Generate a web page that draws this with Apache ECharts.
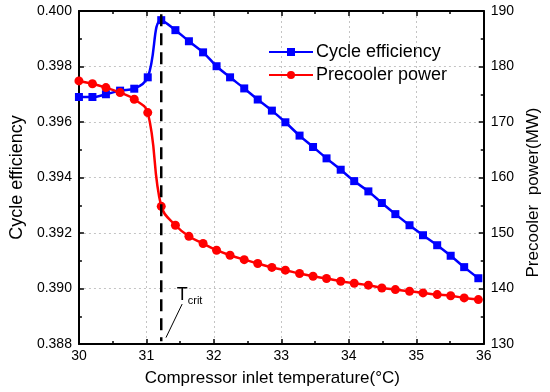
<!DOCTYPE html>
<html><head><meta charset="utf-8">
<script src="https://cdn.jsdelivr.net/npm/echarts@6/dist/echarts.min.js"></script>
<style>html,body{margin:0;padding:0;background:#fff}#c{width:550px;height:392px}</style>
</head><body><div id="c"></div>
<script>
// Data
const temps = [30.00, 30.20, 30.40, 30.61, 30.82, 31.02, 31.22, 31.43, 31.63, 31.84,
               32.04, 32.24, 32.45, 32.65, 32.86, 33.06, 33.27, 33.47, 33.67, 33.88,
               34.08, 34.29, 34.49, 34.69, 34.90, 35.10, 35.31, 35.51, 35.71, 35.92];
const efficiency = [0.39690, 0.39690, 0.39700, 0.39713, 0.39720, 0.39761, 0.39967, 0.39931, 0.39891, 0.39851,
                    0.39801, 0.39761, 0.39721, 0.39681, 0.39641, 0.39599, 0.39551, 0.39510, 0.39469, 0.39428,
                    0.39387, 0.39350, 0.39308, 0.39268, 0.39228, 0.39192, 0.39156, 0.39118, 0.39077, 0.39037];
const precoolerPower = [177.4, 176.9, 176.2, 175.3, 174.1, 171.7, 154.8, 151.4, 149.4, 148.1,
                        146.9, 146.0, 145.2, 144.5, 143.8, 143.3, 142.7, 142.2, 141.8, 141.3,
                        140.95, 140.6, 140.1, 139.8, 139.5, 139.2, 138.9, 138.7, 138.3, 138.0];
const xTicks = [30, 31, 32, 33, 34, 35, 36];
const effTicks = [0.388, 0.390, 0.392, 0.394, 0.396, 0.398, 0.400];
const powerTicks = [130, 140, 150, 160, 170, 180, 190];
const tCrit = 31.22;
const tCritLine = [[tCrit, 0.39988], [tCrit, 0.3881]];
const arrowFrom = [31.53, 0.38944];
const arrowTo = [31.29, 0.38823];
const tCritLabelAt = [31.45, 0.39010];
const seriesNames = ['Cycle efficiency', 'Precooler power'];

const effData = temps.map((t, i) => [t, efficiency[i]]);
const powData = temps.map((t, i) => [t, precoolerPower[i]]);

const FONT = 'Liberation Sans, Arial, sans-serif';
const axisCommon = {
  axisLine: { show: true, onZero: false, lineStyle: { color: '#000', width: 2 } },
  axisTick: { show: true, inside: true, length: 5, lineStyle: { color: '#000', width: 1.5 } },
  minorTick: { show: true, splitNumber: 2, length: 3, lineStyle: { color: '#000', width: 1.5 } },
  axisLabel: { color: '#000', fontSize: 14, fontFamily: FONT },
  nameTextStyle: { color: '#000', fontSize: 17, fontFamily: FONT }
};
const gridLine = { show: true, lineStyle: { color: '#c4c4c4', type: [2, 3], width: 1 } };

const chart = echarts.init(document.getElementById('c'), null, { renderer: 'canvas' });
chart.setOption({
  animation: false,
  backgroundColor: '#fff',
  grid: { left: 72, right: 66, top: 11, bottom: 48, containLabel: false },
  legend: {
    data: seriesNames,
    orient: 'vertical',
    left: 263, top: 38,
    itemWidth: 44, itemHeight: 10, itemGap: 5,
    textStyle: { color: '#000', fontSize: 18, fontFamily: FONT, padding: [0, 0, 0, -2] }
  },
  xAxis: [
    Object.assign({}, axisCommon, {
      type: 'value', position: 'bottom', min: xTicks[0], max: xTicks[xTicks.length - 1], interval: 1,
      name: 'Compressor inlet temperature(°C)', nameLocation: 'middle', nameGap: 26,
      nameTextStyle: Object.assign({}, axisCommon.nameTextStyle, { padding: [0, 18, 0, 0] }),
      axisLabel: Object.assign({}, axisCommon.axisLabel, { margin: 5 }),
      splitLine: gridLine
    }),
    Object.assign({}, axisCommon, {
      type: 'value', position: 'top', min: xTicks[0], max: xTicks[xTicks.length - 1], interval: 1,
      axisLabel: { show: false }, splitLine: { show: false }
    })
  ],
  yAxis: [
    Object.assign({}, axisCommon, {
      type: 'value', position: 'left', min: effTicks[0], max: effTicks[effTicks.length - 1], interval: 0.002,
      name: 'Cycle efficiency', nameLocation: 'middle', nameGap: 52,
      nameTextStyle: Object.assign({}, axisCommon.nameTextStyle, { fontSize: 18 }),
      axisLabel: Object.assign({}, axisCommon.axisLabel, { margin: 7, formatter: v => v.toFixed(3) }),
      splitLine: gridLine
    }),
    Object.assign({}, axisCommon, {
      type: 'value', position: 'right', min: powerTicks[0], max: powerTicks[powerTicks.length - 1], interval: 10,
      name: 'Precooler  power(MW)', nameLocation: 'middle', nameGap: 40,
      nameTextStyle: Object.assign({}, axisCommon.nameTextStyle, { padding: [0, 30, 0, 0] }),
      axisLabel: Object.assign({}, axisCommon.axisLabel, { margin: 7 }),
      splitLine: { show: false }
    })
  ],
  series: [
    {
      name: seriesNames[0], type: 'line', xAxisIndex: 0, yAxisIndex: 0,
      data: effData, smooth: 0.4, symbol: 'rect', symbolSize: 8,
      itemStyle: { color: '#0000ff' }, lineStyle: { color: '#0000ff', width: 2.5 }, z: 3
    },
    {
      name: seriesNames[1], type: 'line', xAxisIndex: 0, yAxisIndex: 1,
      data: powData, smooth: 0.4, symbol: 'circle', symbolSize: 9,
      itemStyle: { color: '#ff0000' }, lineStyle: { color: '#ff0000', width: 2.5 }, z: 3
    },
    {
      name: 'Tcrit', type: 'line', xAxisIndex: 0, yAxisIndex: 0,
      data: tCritLine, symbol: 'none', silent: true,
      lineStyle: { color: '#000', width: 2.5, type: [12, 7] }, z: 4,
      markLine: {
        silent: true, animation: false,
        symbol: ['none', 'arrow'], symbolSize: [0, 9],
        lineStyle: { color: '#000', width: 1, type: 'solid' },
        label: { show: false },
        data: [[{ coord: arrowFrom }, { coord: arrowTo }]]
      }
    }
  ]
});
const tPos = chart.convertToPixel({ xAxisIndex: 0, yAxisIndex: 0 }, tCritLabelAt);
chart.setOption({
  graphic: [
    { type: 'text', x: tPos[0], y: tPos[1], z: 100,
      style: { text: 'T', fontSize: 18, fontFamily: FONT, fill: '#000', verticalAlign: 'top', align: 'left' } },
    { type: 'text', x: tPos[0] + 11, y: tPos[1] + 10, z: 100,
      style: { text: 'crit', fontSize: 11, fontFamily: FONT, fill: '#000', verticalAlign: 'top', align: 'left' } }
  ]
});
</script>
</body></html>
